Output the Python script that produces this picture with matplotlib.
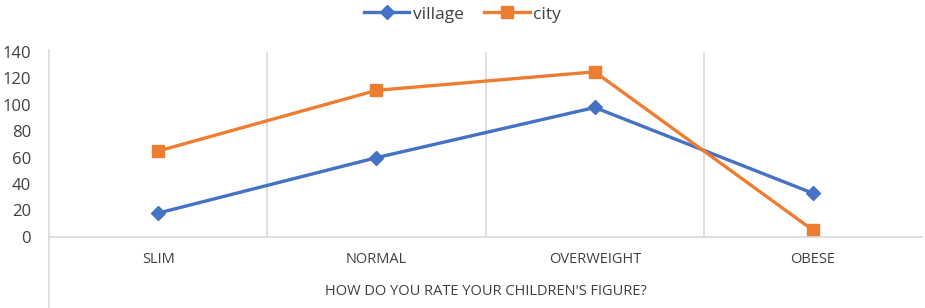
import numpy as np
import matplotlib
matplotlib.use("Agg")
from matplotlib import pyplot as plt

plt.rcParams["font.family"] = ["Open Sans", "DejaVu Sans"]

categories = ["SLIM", "NORMAL", "OVERWEIGHT", "OBESE"]
village = [18, 60, 98, 33]
city = [65, 111, 125, 5]
yticks = [0, 20, 40, 60, 80, 100, 120, 140]

blue = "#4472C4"
orange = "#ED7D31"
grid = "#D9D9D9"
txt = "#404040"

fig = plt.figure(figsize=(9.25, 3.08), dpi=100)
ax = fig.add_axes([0.053, 0.231, 0.944, 0.6])

x = np.arange(len(categories)) + 0.5
ax.plot(x, village, "-D", color=blue, linewidth=2.4, markersize=7.5, label="village")
ax.plot(x, city, "-s", color=orange, linewidth=2.4, markersize=9, label="city")

ax.set_xlim(0, len(categories))
ax.set_ylim(0, 140)
ax.set_yticks(yticks)
ax.tick_params(axis="y", length=0, labelsize=12, pad=13, labelcolor=txt)
ax.set_xticks(x)
ax.set_xticklabels(categories, fontsize=10.5, color=txt)
ax.tick_params(axis="x", length=0, pad=11)

for b in range(1, len(categories)):
    ax.axvline(b, color=grid, linewidth=1.2, zorder=0)

for s in ["top", "right", "left"]:
    ax.spines[s].set_visible(False)
ax.spines["bottom"].set_color(grid)
ax.spines["bottom"].set_linewidth(1.2)

# left axis line running down through the label area
fig.add_artist(plt.Line2D([0.053, 0.053], [0.0, 0.837], transform=fig.transFigure,
                          color=grid, linewidth=1.2))

ax.set_xlabel("HOW DO YOU RATE YOUR CHILDREN'S FIGURE?", fontsize=10.5,
              color=txt, labelpad=12)

fig.legend(loc="upper center", bbox_to_anchor=(0.5, 1.03), ncol=2, frameon=False,
           fontsize=12.5, handlelength=2.6, handletextpad=0.2, columnspacing=1.2,
           labelcolor=txt)

plt.savefig("out.png", dpi=100)
